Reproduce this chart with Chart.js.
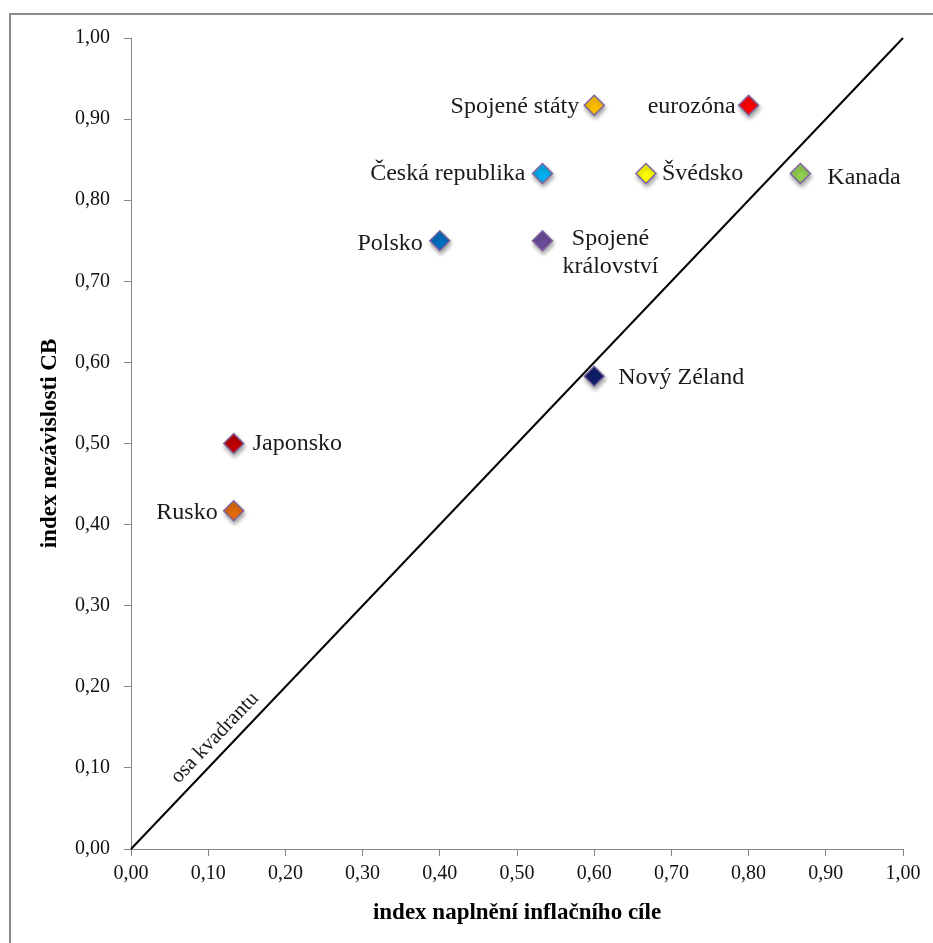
<!DOCTYPE html>
<html>
<head>
<meta charset="utf-8">
<script src="https://cdn.jsdelivr.net/npm/chart.js@4.4.0/dist/chart.umd.min.js"></script>
<style>
  html, body { margin: 0; padding: 0; background: #fff; overflow: hidden; }
  #wrap { position: relative; width: 933px; height: 943px; }
  #frame { position: absolute; left: 9px; top: 13px; width: 2000px; height: 2000px;
    border-left: 2px solid #8a8a8a; border-top: 2px solid #8a8a8a; }
  canvas { position: absolute; left: 0; top: 0; }
</style>
</head>
<body>
<div id="wrap">
  <div id="frame"></div>
  <canvas id="chart" width="933" height="943"></canvas>
</div>
<script>
// data
const countries = ['Spojené státy', 'eurozóna', 'Česká republika', 'Švédsko', 'Kanada',
  'Polsko', 'Spojené království', 'Nový Zéland', 'Japonsko', 'Rusko'];
const inflationTargetIndex = [0.600, 0.800, 0.533, 0.667, 0.867, 0.400, 0.533, 0.600, 0.133, 0.133];
const independenceIndex = [0.917, 0.917, 0.833, 0.833, 0.833, 0.750, 0.750, 0.583, 0.500, 0.417];
const quadrantAxisX = [0, 1];
const quadrantAxisY = [0, 1];
const quadrantLabel = 'osa kvadrantu';
const xTitle = 'index naplnění inflačního cíle';
const yTitle = 'index nezávislosti CB';

// marker colours and label placement (side of point, pixel offsets)
const markerColors = ['#FFC000', '#FF0000', '#00B0F0', '#FFFF00', '#92D050',
  '#0070C0', '#6B4C9A', '#0F1F6A', '#C00000', '#E46C0A'];
const labelPlace = [
  { side: 'left', dx: -15, dy: 8 },
  { side: 'left', dx: -13, dy: 8 },
  { side: 'left', dx: -17, dy: 7 },
  { side: 'right', dx: 16, dy: 7 },
  { side: 'right', dx: 27, dy: 11 },
  { side: 'left', dx: -17, dy: 9 },
  { side: 'center', dx: 68, dy: 4, wrap: true },
  { side: 'right', dx: 24, dy: 8 },
  { side: 'right', dx: 19, dy: 6 },
  { side: 'left', dx: -16, dy: 8 },
];

const serif = '"Liberation Serif", "Times New Roman", serif';
const axisGray = '#868686';
const fmt = (v) => Number(v).toFixed(2).replace('.', ',');

const markerShadow = {
  id: 'markerShadow',
  beforeDatasetDraw(chart, args) {
    if (args.index !== 0) return;
    const ctx = chart.ctx;
    ctx.save();
    ctx.shadowColor = 'rgba(0,0,0,0.35)';
    ctx.shadowBlur = 4;
    ctx.shadowOffsetX = 1;
    ctx.shadowOffsetY = 3;
  },
  afterDatasetDraw(chart, args) {
    if (args.index !== 0) return;
    chart.ctx.restore();
  },
};

const pointLabels = {
  id: 'pointLabels',
  afterDatasetsDraw(chart) {
    const ctx = chart.ctx;
    const pts = chart.getDatasetMeta(0).data;
    ctx.save();
    ctx.font = '24px ' + serif;
    ctx.fillStyle = '#1a1a1a';
    ctx.textBaseline = 'alphabetic';
    countries.forEach((name, i) => {
      const p = labelPlace[i];
      const x = pts[i].x + p.dx;
      const y = pts[i].y + p.dy;
      ctx.textAlign = p.side === 'left' ? 'right' : (p.side === 'right' ? 'left' : 'center');
      if (p.wrap) {
        const words = name.split(' ');
        ctx.fillText(words[0], x, y);
        ctx.fillText(words.slice(1).join(' '), x, y + 28);
      } else {
        ctx.fillText(name, x, y);
      }
    });

    // label along the diagonal
    const xs = chart.scales.x, ys = chart.scales.y;
    const px = xs.getPixelForValue(0.1236), py = ys.getPixelForValue(0.1236);
    const ang = Math.atan2(ys.getPixelForValue(1) - ys.getPixelForValue(0),
      xs.getPixelForValue(1) - xs.getPixelForValue(0));
    ctx.translate(px, py);
    ctx.rotate(ang);
    ctx.textAlign = 'center';
    ctx.textBaseline = 'middle';
    ctx.font = '21px ' + serif;
    ctx.fillText(quadrantLabel, 0, -16);
    ctx.restore();
  },
};

new Chart(document.getElementById('chart'), {
  type: 'scatter',
  data: {
    datasets: [{
      label: 'země',
      data: countries.map((c, i) => ({ x: inflationTargetIndex[i], y: independenceIndex[i] })),
      pointStyle: 'rectRot',
      pointRadius: 10,
      pointHoverRadius: 10,
      backgroundColor: markerColors,
      borderColor: '#8064A2',
      borderWidth: 1.5,
    }, {
      label: quadrantLabel,
      data: quadrantAxisX.map((x, i) => ({ x, y: quadrantAxisY[i] })),
      showLine: true,
      pointRadius: 0,
      borderColor: '#000',
      borderWidth: 2,
      clip: false,
    }],
  },
  options: {
    responsive: false,
    animation: false,
    layout: { padding: { top: 38, right: 30, left: 0, bottom: 0 } },
    plugins: {
      legend: { display: false },
      tooltip: { enabled: false },
    },
    scales: {
      x: {
        type: 'linear',
        min: 0,
        max: 1,
        afterFit: (s) => { s.height = 94; },
        ticks: {
          stepSize: 0.1,
          callback: fmt,
          color: '#111',
          padding: 6,
          maxRotation: 0,
          font: { family: serif, size: 20 },
        },
        grid: { drawOnChartArea: false, drawTicks: true, tickLength: 7, color: axisGray },
        border: { color: axisGray, width: 1 },
        title: {
          display: true,
          text: xTitle,
          color: '#000',
          padding: { top: 0, bottom: 16 },
          font: { family: serif, size: 23, weight: 'bold' },
        },
      },
      y: {
        type: 'linear',
        min: 0,
        max: 1,
        afterFit: (s) => { s.width = 131; },
        ticks: {
          stepSize: 0.1,
          callback: fmt,
          color: '#111',
          padding: 14,
          font: { family: serif, size: 20 },
        },
        grid: { drawOnChartArea: false, drawTicks: true, tickLength: 7, color: axisGray },
        border: { color: axisGray, width: 1 },
        title: {
          display: true,
          text: yTitle,
          color: '#000',
          padding: { top: 36, bottom: 0 },
          font: { family: serif, size: 23, weight: 'bold' },
        },
      },
    },
  },
  plugins: [markerShadow, pointLabels],
});
</script>
</body>
</html>
